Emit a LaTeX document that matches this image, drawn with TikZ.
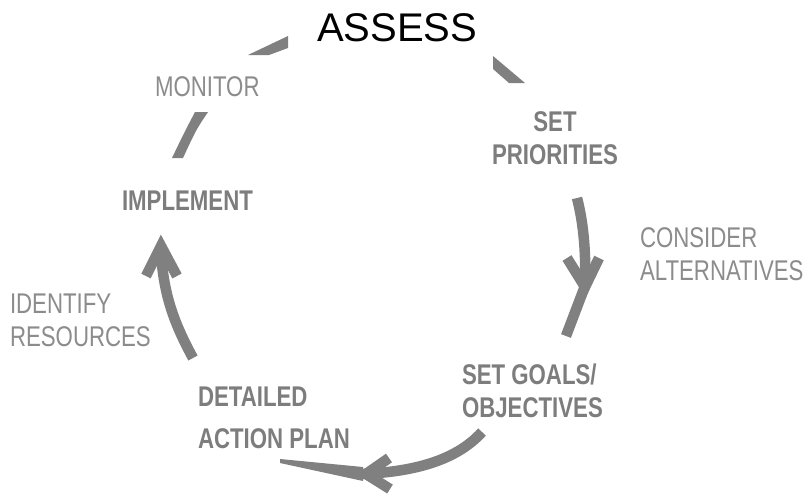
\documentclass[tikz,border=0pt]{standalone}
\usepackage{fontspec}
\setmainfont{Liberation Sans}
\newfontfamily\condfont{Liberation Sans}[FakeStretch=0.78]
\definecolor{linegray}{RGB}{128,128,128}
\definecolor{boldgray}{RGB}{125,125,125}
\definecolor{lightgray}{RGB}{140,140,140}
\begin{document}
\begin{tikzpicture}[x=1pt,y=-1pt,
  lbl/.style={inner sep=0pt, outer sep=0pt, align=left, anchor=north west,
    font=\condfont\fontsize{28.5}{33}\selectfont, text=lightgray},
  blbl/.style={lbl, font=\condfont\bfseries\fontsize{28.5}{33}\selectfont, text=boldgray},
  arr/.style={draw=linegray, line width=10.5pt, line cap=butt},
  barb/.style={arr, line join=miter}]
\fill[white] (0,0) rectangle (806,493);
\useasboundingbox (0,0) rectangle (806,493);

% labels
\node[inner sep=0pt, anchor=north west, font=\fontsize{40}{40}\selectfont, text=black] (assess) at (317,13) {ASSESS};
\node[lbl] (monitor) at (155,77) {MONITOR};
\node[blbl, align=center, anchor=north] (prio) at (555,112) {SET\\PRIORITIES};
\node[blbl] (impl) at (122,191) {IMPLEMENT};
\node[lbl] (cons) at (640,228) {CONSIDER\\ALTERNATIVES};
\node[lbl] (ident) at (10,294) {IDENTIFY\\RESOURCES};
\node[blbl] (plan) at (198,387) {DETAILED\\[9pt]ACTION PLAN};
\node[blbl] (goals) at (462,364) {SET GOALS/\\OBJECTIVES};

% circle pieces
\fill[linegray] (248,55) -- (288,36) -- (288,48) -- (269,55) -- cycle;
\fill[linegray] (493,56) -- (525,83) -- (509,83) -- (493,69) -- cycle;
\fill[linegray] (195,112) -- (208,112) .. controls (196,130) .. (183,158) -- (172,158) .. controls (184,133) .. (195,112) -- cycle;

% right arrow (down)
\draw[arr] (577,198) .. controls (584,225) and (586,255) .. (585,286) -- (566,336);
\draw[barb] (567,258) -- (585,287) -- (599,258);

% bottom arrow (left)
\draw[arr] (482,432) .. controls (455,462) and (410,472) .. (362,474);
\fill[linegray] (280,459) -- (363,467) -- (363,481) -- (280,463) -- cycle;
\draw[barb] (389,458) -- (366,474) -- (390,489);

% left arrow (up)
\draw[arr] (193,358) .. controls (175,325) and (163,295) .. (161,250);
\draw[barb] (146,276) -- (161,246) -- (177,276);
\end{tikzpicture}
\end{document}
